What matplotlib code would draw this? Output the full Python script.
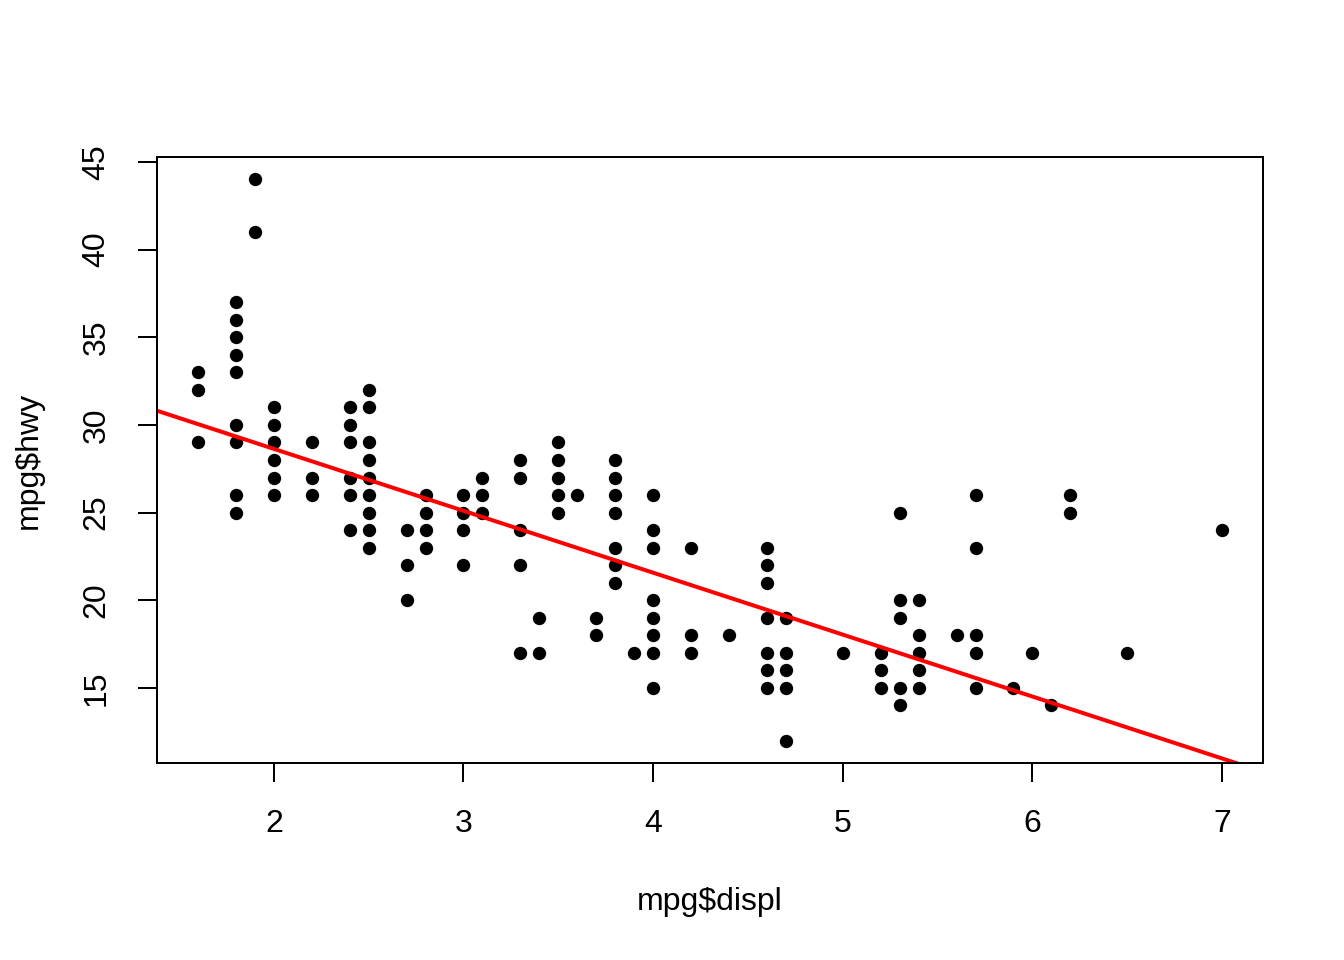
import matplotlib
matplotlib.use("Agg")
import matplotlib.pyplot as plt

plt.rcParams['font.family'] = ['Liberation Sans', 'DejaVu Sans']

# engine displacement (litres) and highway mpg
displ = [1.6, 1.6, 1.6,
         1.8, 1.8, 1.8, 1.8, 1.8, 1.8, 1.8, 1.8, 1.8,
         1.9, 1.9,
         2.0, 2.0, 2.0, 2.0, 2.0, 2.0,
         2.2, 2.2, 2.2,
         2.4, 2.4, 2.4, 2.4, 2.4, 2.4,
         2.5, 2.5, 2.5, 2.5, 2.5, 2.5, 2.5, 2.5, 2.5,
         2.7, 2.7, 2.7,
         2.8, 2.8, 2.8, 2.8,
         3.0, 3.0, 3.0, 3.0,
         3.1, 3.1, 3.1,
         3.3, 3.3, 3.3, 3.3, 3.3,
         3.4, 3.4,
         3.5, 3.5, 3.5, 3.5, 3.5,
         3.6,
         3.7, 3.7,
         3.8, 3.8, 3.8, 3.8, 3.8, 3.8, 3.8,
         3.9,
         4.0, 4.0, 4.0, 4.0, 4.0, 4.0, 4.0, 4.0,
         4.2, 4.2, 4.2,
         4.4,
         4.6, 4.6, 4.6, 4.6, 4.6, 4.6, 4.6,
         4.7, 4.7, 4.7, 4.7, 4.7,
         5.0,
         5.2, 5.2, 5.2,
         5.3, 5.3, 5.3, 5.3, 5.3,
         5.4, 5.4, 5.4, 5.4, 5.4,
         5.6,
         5.7, 5.7, 5.7, 5.7, 5.7,
         5.9,
         6.0,
         6.1,
         6.2, 6.2,
         6.5,
         7.0]
hwy = [33, 32, 29,
       37, 36, 35, 34, 33, 30, 29, 26, 25,
       44, 41,
       31, 30, 29, 28, 27, 26,
       29, 27, 26,
       31, 30, 29, 27, 26, 24,
       32, 31, 29, 28, 27, 26, 25, 24, 23,
       24, 22, 20,
       26, 25, 24, 23,
       26, 25, 24, 22,
       27, 26, 25,
       28, 27, 24, 22, 17,
       19, 17,
       29, 28, 27, 26, 25,
       26,
       19, 18,
       28, 27, 26, 25, 23, 22, 21,
       17,
       26, 24, 23, 20, 19, 18, 17, 15,
       23, 18, 17,
       18,
       23, 22, 21, 19, 17, 16, 15,
       19, 17, 16, 15, 12,
       17,
       17, 16, 15,
       25, 20, 19, 15, 14,
       20, 18, 17, 16, 15,
       18,
       26, 23, 18, 17, 15,
       15,
       17,
       14,
       26, 25,
       17,
       24]

# lm(hwy ~ displ) coefficients
intercept = 35.698
slope = -3.531

x_ticks = [2, 3, 4, 5, 6, 7]
y_ticks = [15, 20, 25, 30, 35, 40, 45]

fig = plt.figure(figsize=(7, 5), dpi=192)
ax = fig.add_axes([157 / 1344, 1 - 763 / 960, 1106 / 1344, 606 / 960])

ax.plot(displ, hwy, 'o', color='black', markersize=5, markeredgewidth=0)
ax.axline((0, intercept), slope=slope, color='red', linewidth=1.5)

# R style: data range padded by 4%
xr = max(displ) - min(displ)
yr = max(hwy) - min(hwy)
ax.set_xlim(min(displ) - 0.04 * xr, max(displ) + 0.04 * xr)
ax.set_ylim(min(hwy) - 0.04 * yr, max(hwy) + 0.04 * yr)

ax.set_xticks(x_ticks)
ax.set_yticks(y_ticks)
ax.set_yticklabels([str(v) for v in y_ticks], rotation=90, va='center')
ax.tick_params(direction='out', length=7.2, width=0.75, labelsize=12, colors='black')
ax.tick_params(axis='x', pad=10.2)
ax.tick_params(axis='y', pad=9.8)
for s in ax.spines.values():
    s.set_linewidth(0.75)

ax.set_xlabel('mpg$displ', fontsize=12)
ax.set_ylabel('mpg$hwy', fontsize=12)
ax.xaxis.set_label_coords(0.5, -0.205)
ax.yaxis.set_label_coords(-0.102, 0.5)

fig.savefig('out.png', dpi=192)
